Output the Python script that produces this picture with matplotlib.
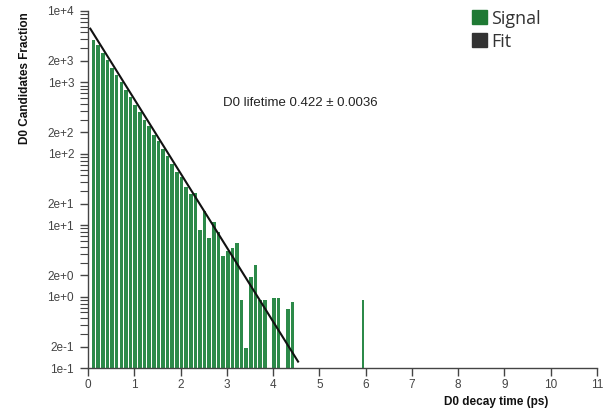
import matplotlib
matplotlib.use("Agg")
import matplotlib.pyplot as plt
from matplotlib.patches import Rectangle
import numpy as np

# ---- data ----
bin_centers = [0.12, 0.22, 0.32, 0.42, 0.52, 0.62, 0.72, 0.82, 0.92, 1.02,
               1.12, 1.22, 1.32, 1.42, 1.52, 1.62, 1.72, 1.82, 1.92, 2.02,
               2.12, 2.22, 2.32, 2.42, 2.52, 2.62, 2.72, 2.82, 2.92, 3.02,
               3.12, 3.22, 3.32, 3.42, 3.52, 3.62, 3.72, 3.82, 3.92, 4.02,
               4.12, 4.22, 4.32, 4.42, 5.94]
signal_values = [3900, 3300, 2550, 2050, 1580, 1260, 1010, 780, 630, 485,
                 390, 302, 245, 186, 152, 116, 94, 72, 56, 47,
                 34, 27, 28, 8.5, 16, 6.6, 11, 8, 3.7, 4.4,
                 4.8, 5.6, 0.9, 0.19, 1.9, 2.8, 0.9, 0.9, 0, 0.95,
                 0.97, 0, 0.68, 0.85, 0.9]
fit_t = [0.05, 4.54]
fit_y = [5650, 0.123]

y_tick_vals = [0.1, 0.2, 1, 2, 10, 20, 100, 200, 1000, 2000, 10000]
y_tick_labels = ["1e-1", "2e-1", "1e+0", "2e+0", "1e+1", "2e+1",
                 "1e+2", "2e+2", "1e+3", "2e+3", "1e+4"]
x_tick_vals = list(range(0, 12))
annotation = "D0 lifetime 0.422 \u00b1 0.0036"
legend_labels = ["Signal", "Fit"]

# ---- figure ----
W, H = 616, 411
fig = plt.figure(figsize=(W / 100, H / 100), dpi=100)
ax = fig.add_axes([88 / W, (H - 368) / H, 509 / W, 357 / H])
ax.set_yscale("log")
ax.set_xlim(0, 11)
ax.set_ylim(0.1, 10000)

bar_color = "#2c8a49"
xs = [t for t, v in zip(bin_centers, signal_values) if v > 0]
vs = [v - 0.1 for v in signal_values if v > 0]
widths = [0.078 if t < 5 else 0.045 for t in xs]
ax.bar(xs, vs, width=widths, bottom=0.1, color=bar_color, edgecolor="none", zorder=2)

ax.plot(fit_t, fit_y, color="#111111", lw=1.5, zorder=3)

for s in ["top", "right"]:
    ax.spines[s].set_visible(False)
for s in ["left", "bottom"]:
    ax.spines[s].set_color("#444444")
    ax.spines[s].set_linewidth(1.0)

tick_font = dict(family="Liberation Sans", size=8.5)
ax.set_yticks(y_tick_vals)
ax.set_yticklabels(y_tick_labels, fontdict=tick_font, color="#444444")
minor = [m * 10.0 ** k for k in range(-1, 4) for m in range(3, 10)]
ax.set_yticks(minor, minor=True)
ax.yaxis.set_minor_formatter(matplotlib.ticker.NullFormatter())
ax.tick_params(axis="y", which="major", length=6, width=1, color="#444444", pad=4)
ax.tick_params(axis="y", which="minor", length=6, width=0.8, color="#444444")

ax.set_xticks(x_tick_vals)
ax.set_xticklabels([str(v) for v in x_tick_vals], fontdict=tick_font, color="#444444")
ax.tick_params(axis="x", which="major", length=6, width=1, color="#444444", pad=2)
ax.xaxis.set_minor_locator(matplotlib.ticker.NullLocator())

# axis labels
fig.text(25 / W, 1 - 78 / H, "D0 Candidates Fraction", rotation=90,
         ha="center", va="center", family="Liberation Sans",
         weight="bold", size=8.5, color="#111111")
fig.text(496 / W, 1 - 402 / H, "D0 decay time (ps)", ha="center", va="center",
         family="Liberation Sans", weight="bold", size=8.5, color="#111111")

# annotation
fig.text(300 / W, 1 - 103 / H, annotation, ha="center", va="center",
         family="Liberation Sans", size=9.5, color="#222222")

# legend
legend_colors = ["#1f7a34", "#333333"]
for k, (lab, col) in enumerate(zip(legend_labels, legend_colors)):
    top = 10 + 23 * k
    fig.add_artist(Rectangle((472 / W, 1 - (top + 14) / H), 15 / W, 14 / H,
                             transform=fig.transFigure, color=col))
    fig.text(491 / W, 1 - (top + 14) / H, lab, ha="left", va="baseline",
             family="Open Sans", size=13, color="#333333")

fig.savefig("out.png", dpi=100)
